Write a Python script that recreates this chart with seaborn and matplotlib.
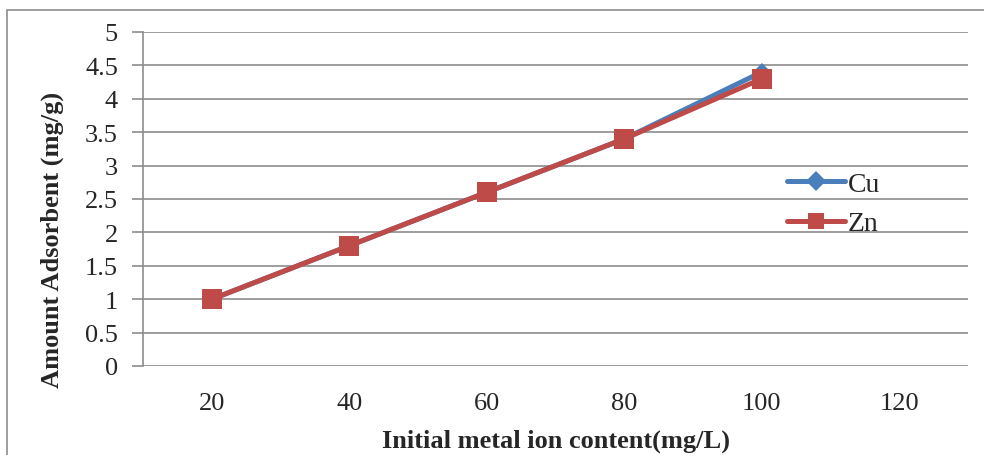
import matplotlib
matplotlib.use("Agg")
import matplotlib.pyplot as plt
from matplotlib.patches import Rectangle
from matplotlib.lines import Line2D
import seaborn as sns
import pandas as pd

# Initial metal ion concentration categories (mg/L)
categories = ["20", "40", "60", "80", "100", "120"]
cu_values = [1.0, 1.8, 2.6, 3.4, 4.4]
zn_values = [1.0, 1.8, 2.6, 3.4, 4.3]
y_ticks = [0, 0.5, 1, 1.5, 2, 2.5, 3, 3.5, 4, 4.5, 5]
y_tick_labels = ["0", "0.5", "1", "1.5", "2", "2.5", "3", "3.5", "4", "4.5", "5"]

sns.set_theme(style="white")
plt.rcParams["font.family"] = ["Liberation Serif", "DejaVu Serif"]

rows = []
for i, v in enumerate(cu_values):
    rows.append({"pos": i, "value": v, "metal": "Cu"})
for i, v in enumerate(zn_values):
    rows.append({"pos": i, "value": v, "metal": "Zn"})
df = pd.DataFrame(rows)

W, H = 984, 456
fig = plt.figure(figsize=(W / 100, H / 100), dpi=100)
ax = fig.add_axes([143 / W, 1 - 367 / H, (968 - 143) / W, (367 - 33) / H])

# outer chart border
fig.patches.append(Rectangle((7 / W, -0.1), 1.2, (1 - 11 / H) + 0.1,
                             transform=fig.transFigure, fill=False,
                             edgecolor="#8c8c8c", linewidth=1.2))

palette = {"Cu": "#4A7EBB", "Zn": "#BE4B48"}
sns.lineplot(data=df, x="pos", y="value", hue="metal", style="metal",
             markers={"Cu": "D", "Zn": "s"}, dashes=False, palette=palette,
             linewidth=3.6, ax=ax, legend=False)
for line, ms in zip(ax.lines, [9, 14]):
    line.set_markersize(ms)
    line.set_markeredgewidth(0)

ax.set_xlim(-0.5, len(categories) - 0.5)
ax.set_ylim(0, 5)
ax.set_xticks(range(len(categories)))
ax.set_xticklabels(categories)
ax.set_yticks(y_ticks)
ax.set_yticklabels(y_tick_labels)

for y in y_ticks:
    ax.axhline(y, color="#8c8c8c", linewidth=1.2, zorder=0)

for side in ["top", "right", "bottom"]:
    ax.spines[side].set_visible(False)
ax.spines["left"].set_color("#8c8c8c")
ax.spines["left"].set_linewidth(1.2)

ax.tick_params(axis="y", which="major", length=8, width=1.2, color="#8c8c8c",
               labelsize=19, pad=10, left=True)
ax.tick_params(axis="x", length=0, labelsize=19, pad=19)

ax.set_xlabel("Initial metal ion content(mg/L)", fontsize=19, fontweight="bold",
              labelpad=10)
ax.set_ylabel("Amount Adsorbent (mg/g)", fontsize=19, fontweight="bold")
ax.yaxis.set_label_coords(-(143 - 64) / (968 - 143), (367 - 240) / (367 - 33))

handles = [Line2D([], [], color=palette["Cu"], marker="D", markersize=10,
                  markeredgewidth=0, linewidth=3.6),
           Line2D([], [], color=palette["Zn"], marker="s", markersize=12,
                  markeredgewidth=0, linewidth=3.6)]
ax.legend(handles, ["Cu", "Zn"], loc="center left",
          bbox_to_anchor=((762 - 143) / (968 - 143), (367 - 205) / (367 - 33)),
          frameon=False, fontsize=20, handlelength=2.1, handletextpad=0.1,
          labelspacing=0.5)

fig.savefig("out.png", dpi=100)
